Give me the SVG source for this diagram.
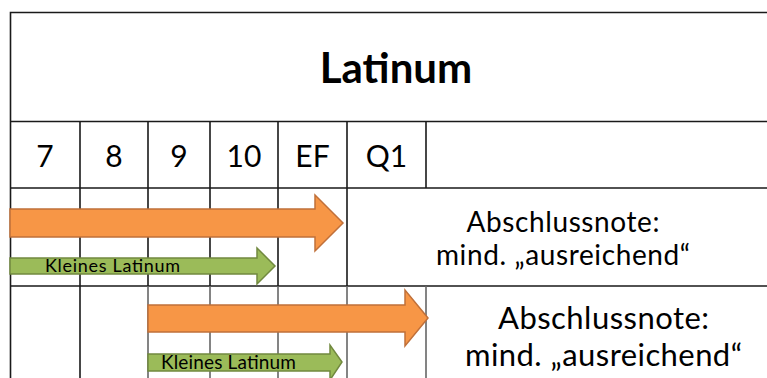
<svg xmlns="http://www.w3.org/2000/svg" width="767" height="378" viewBox="0 0 767 378">
<defs>
<style>
.grid{stroke:#1a1a1a;stroke-width:1.6;fill:none}
.gridl{stroke:#666;stroke-width:1.6;fill:none}
.t{font-family:Lato,"Liberation Sans",sans-serif;fill:#000}
.hdr{font-size:30px;text-anchor:middle}
.orange{fill:#F79646;stroke:#C0703A;stroke-width:1.5}
.green{fill:#9BBB59;stroke:#71893F;stroke-width:1.5}
.note{text-anchor:middle}
</style>
</defs>
<rect width="767" height="378" fill="#fff"/>
<g id="grid">
<path class="grid" d="M10.5 378V12.5H767M10 121.5H767M10 188H767M10 286H767"/>
<path class="grid" d="M80 121.5V378M148 121.5V286M210 121.5V286M278 121.5V286M347 121.5V286M426 121.5V188"/>
<path class="gridl" d="M148 286V378M210 286V378M278 286V378M347 286V378M426 286V378"/>
</g>
<g id="title"><text class="t" x="396" y="83" font-size="42" font-weight="bold" text-anchor="middle">Latinum</text></g>
<g id="header">
<text class="t hdr" x="45" y="167">7</text>
<text class="t hdr" x="114" y="167">8</text>
<text class="t hdr" x="179" y="167">9</text>
<text class="t hdr" x="244" y="167">10</text>
<text class="t hdr" x="312.5" y="167">EF</text>
<text class="t hdr" x="386.5" y="167">Q1</text>
</g>
<g id="connectors">
<g id="row1-orange"><path class="orange" d="M10 209H315V195L343 223L315 251V237H10Z"/></g>
<g id="row1-green"><path class="green" d="M10 258H257V248L275 266L257 284V274H10Z"/><text class="t" x="45" y="272" font-size="18" textLength="135">Kleines Latinum</text></g>
<g id="row2-orange"><path class="orange" d="M148 305H405V290L428 318L405 346V332H148Z"/></g>
<g id="row2-green"><path class="green" d="M148 354H330V345L342 362L330 380V371H148Z"/><text class="t" x="161" y="369" font-size="19" textLength="135">Kleines Latinum</text></g>
</g>
<g id="note1"><text class="t note" font-size="28"><tspan x="563" y="232" textLength="193">Abschlussnote:</tspan><tspan x="563" y="265" textLength="254">mind. „ausreichend“</tspan></text></g>
<g id="note2"><text class="t note" font-size="31"><tspan x="603.5" y="329" textLength="211">Abschlussnote:</tspan><tspan x="603.5" y="366" textLength="277">mind. „ausreichend“</tspan></text></g>
</svg>
